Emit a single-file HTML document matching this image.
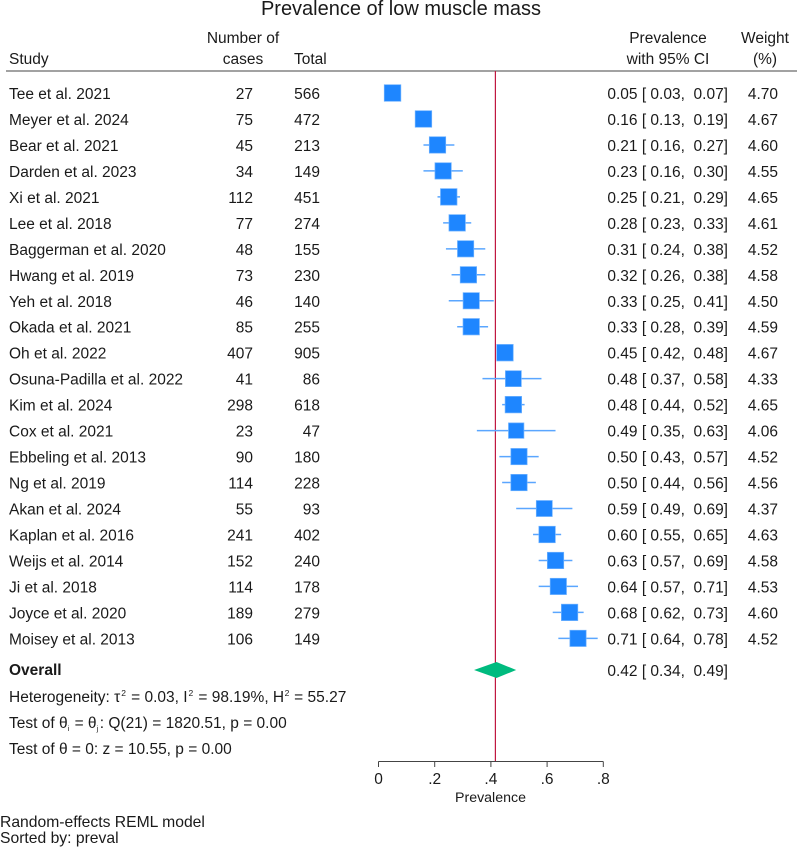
<!DOCTYPE html>
<html>
<head>
<meta charset="utf-8">
<style>
html,body{margin:0;padding:0;background:#fff;}
svg{display:block;}
text{font-family:"Liberation Sans",sans-serif;font-size:15.5px;fill:#1a1a1a;white-space:pre;}
</style>
</head>
<body>
<svg id="chart" width="797" height="848" viewBox="0 0 797 848" xmlns="http://www.w3.org/2000/svg">
<text x="401" y="15" text-anchor="middle" style="font-size:20px">Prevalence of low muscle mass</text>
<text x="243" y="43" text-anchor="middle">Number of</text>
<text x="9" y="64">Study</text>
<text x="243" y="64" text-anchor="middle">cases</text>
<text x="294" y="64">Total</text>
<text x="668" y="43" text-anchor="middle">Prevalence</text>
<text x="668" y="64" text-anchor="middle">with 95% CI</text>
<text x="765" y="43" text-anchor="middle">Weight</text>
<text x="765" y="64" text-anchor="middle">(%)</text>
<line x1="6" x2="797" y1="71" y2="71" stroke="#444" stroke-width="1"/>
<g id="marks"></g>
<g id="rows"></g>
<text x="9" y="675" style="font-weight:bold">Overall</text>
<text x="9" y="702">Heterogeneity: τ<tspan dy="-6" dx="1" style="font-size:8.5px">2</tspan><tspan dy="6" dx="0.8"> = 0.03, I</tspan><tspan dy="-6" dx="1" style="font-size:8.5px">2</tspan><tspan dy="6" dx="0.8"> = 98.19%, H</tspan><tspan dy="-6" dx="0.5" style="font-size:8.5px">2</tspan><tspan dy="6" dx="0.5"> = 55.27</tspan></text>
<text x="9" y="728">Test of θ<tspan dy="3" style="font-size:7.5px">i</tspan><tspan dy="-3" dx="1"> = θ</tspan><tspan dy="3" style="font-size:7.5px">j</tspan><tspan dy="-3" dx="1.5">: Q(21) = 1820.51, p = 0.00</tspan></text>
<text x="9" y="754">Test of θ = 0: z = 10.55, p = 0.00</text>
<g id="axis"></g>
<text x="490.5" y="802" text-anchor="middle" style="font-size:14.2px">Prevalence</text>
<text x="0" y="827" style="font-size:15.7px">Random-effects REML model</text>
<text x="0" y="843" style="font-size:15.7px">Sorted by: preval</text>
</svg>
<script>
const studies = ["Tee et al. 2021","Meyer et al. 2024","Bear et al. 2021","Darden et al. 2023","Xi et al. 2021","Lee et al. 2018","Baggerman et al. 2020","Hwang et al. 2019","Yeh et al. 2018","Okada et al. 2021","Oh et al. 2022","Osuna-Padilla et al. 2022","Kim et al. 2024","Cox et al. 2021","Ebbeling et al. 2013","Ng et al. 2019","Akan et al. 2024","Kaplan et al. 2016","Weijs et al. 2014","Ji et al. 2018","Joyce et al. 2020","Moisey et al. 2013"];
const cases = [27,75,45,34,112,77,48,73,46,85,407,41,298,23,90,114,55,241,152,114,189,106];
const totals = [566,472,213,149,451,274,155,230,140,255,905,86,618,47,180,228,93,402,240,178,279,149];
const estimates = [0.05,0.16,0.21,0.23,0.25,0.28,0.31,0.32,0.33,0.33,0.45,0.48,0.48,0.49,0.50,0.50,0.59,0.60,0.63,0.64,0.68,0.71];
const lowers = [0.03,0.13,0.16,0.16,0.21,0.23,0.24,0.26,0.25,0.28,0.42,0.37,0.44,0.35,0.43,0.44,0.49,0.55,0.57,0.57,0.62,0.64];
const uppers = [0.07,0.19,0.27,0.30,0.29,0.33,0.38,0.38,0.41,0.39,0.48,0.58,0.52,0.63,0.57,0.56,0.69,0.65,0.69,0.71,0.73,0.78];
const weights = [4.70,4.67,4.60,4.55,4.65,4.61,4.52,4.58,4.50,4.59,4.67,4.33,4.65,4.06,4.52,4.56,4.37,4.63,4.58,4.53,4.60,4.52];
const overallEstimate = 0.42;
const overallLower = 0.34;
const overallUpper = 0.49;
const overallLine = 0.416;
const axisTicks = [0,0.2,0.4,0.6,0.8];
const axisTickLabels = ["0",".2",".4",".6",".8"];

const NS = "http://www.w3.org/2000/svg";
const xScale = v => 378.5 + v * 281;
const yRow = i => 93 + i * 25.97;
const marks = document.getElementById("marks");
const rows = document.getElementById("rows");
const axis = document.getElementById("axis");

function make(parent, tag, attrs, txt) {
  const el = document.createElementNS(NS, tag);
  for (const k in attrs) el.setAttribute(k, attrs[k]);
  if (txt !== undefined) el.textContent = txt;
  parent.appendChild(el);
  return el;
}
function ciText(e, l, u) {
  return e.toFixed(2) + " [ " + l.toFixed(2) + ",  " + u.toFixed(2) + "]";
}

const refLine = make(marks, "line", {x1: xScale(overallLine), x2: xScale(overallLine), y1: 71, y2: 761.5, stroke: "#c0173f", "stroke-width": 1.2});



studies.forEach((name, i) => {
  const y = yRow(i);
  const ci = make(marks, "line", {x1: xScale(lowers[i]), x2: xScale(uppers[i]), y1: y, y2: y, stroke: "#5aa6ff", "stroke-width": 1.5});
  
  
  const s = 16.6 * Math.sqrt(weights[i] / 4.7);
  const sq = make(marks, "rect", {x: xScale(estimates[i]) - s / 2, y: y - s / 2, width: s, height: s, fill: "#1e86ff", stroke: "#6fb2ff", "stroke-width": 0.7});
  
  

  const t1 = make(rows, "text", {x: 9, y: y + 6}, name);
  
  
  const t2 = make(rows, "text", {x: 253, y: y + 6, "text-anchor": "end"}, String(cases[i]));
  
  
  const t3 = make(rows, "text", {x: 320, y: y + 6, "text-anchor": "end"}, String(totals[i]));
  
  
  const t4 = make(rows, "text", {x: 728, y: y + 6, "text-anchor": "end"}, ciText(estimates[i], lowers[i], uppers[i]));
  
  
  const t5 = make(rows, "text", {x: 778, y: y + 6, "text-anchor": "end"}, weights[i].toFixed(2));
  
  
});

const dy = 670;
const diamond = make(marks, "polygon", {
  points: [[xScale(overallLower), dy], [xScale(overallEstimate), dy - 8], [xScale(overallUpper), dy], [xScale(overallEstimate), dy + 8]].map(p => p.join(",")).join(" "),
  fill: "#00bb7f"
});


const ov = make(rows, "text", {x: 728, y: dy + 6, "text-anchor": "end"}, ciText(overallEstimate, overallLower, overallUpper));



const axisLine = make(axis, "line", {x1: xScale(axisTicks[0]), x2: xScale(axisTicks[axisTicks.length - 1]), y1: 761.5, y2: 761.5, stroke: "#444", "stroke-width": 1});


axisTicks.forEach((v, i) => {
  const tick = make(axis, "line", {x1: xScale(v), x2: xScale(v), y1: 761.5, y2: 767, stroke: "#444", "stroke-width": 1});
  
  
  const lab = make(axis, "text", {x: xScale(v), y: 784, "text-anchor": "middle"}, axisTickLabels[i]);
  
  
});
</script>
</body>
</html>
